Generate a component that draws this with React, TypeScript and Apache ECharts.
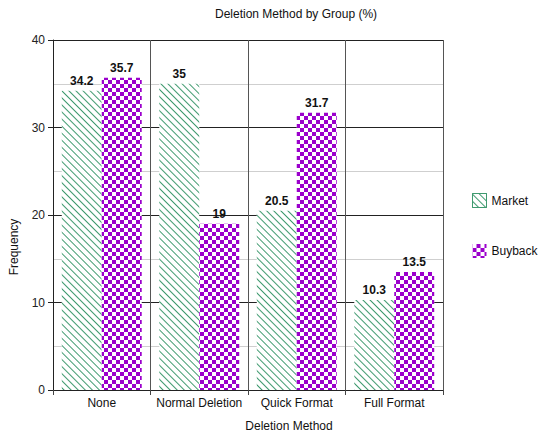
import React, { useEffect, useRef } from "react";
import * as echarts from "echarts";

const categories = ["None", "Normal Deletion", "Quick Format", "Full Format"];
const marketValues = [34.2, 35, 20.5, 10.3];
const buybackValues = [35.7, 19, 31.7, 13.5];
const seriesNames = ["Market", "Buyback"];

const GREEN = "#3f9a6f";
const PURPLE = "#9b00cc";

const marketDecal = {
  symbol: "rect",
  symbolSize: 1,
  dashArrayX: [1, 0],
  dashArrayY: [1, 4],
  rotation: Math.PI / 4,
  color: GREEN,
};
const buybackDecal = {
  symbol: "rect",
  symbolSize: 1,
  dashArrayX: [
    [4, 4],
    [0, 4, 4, 0],
  ],
  dashArrayY: [4, 0],
  rotation: 0,
  color: PURPLE,
};

export default function App() {
  const ref = useRef<HTMLDivElement>(null);
  useEffect(() => {
    if (!ref.current) return;
    const chart = echarts.init(ref.current, undefined, { renderer: "svg" });
    const font = "Liberation Sans, Arial, sans-serif";
    chart.setOption({
      animation: false,
      backgroundColor: "#fff",
      textStyle: { fontFamily: font },
      title: {
        text: "Deletion Method by Group (%)",
        left: 291,
        textAlign: "center",
        top: 3,
        textStyle: { fontSize: 12, fontWeight: "normal", color: "#111", fontFamily: font },
      },
      legend: {
        orient: "vertical",
        left: 467,
        top: 188,
        itemWidth: 14,
        itemHeight: 14,
        itemGap: 36,
        icon: "rect",
        textStyle: { fontSize: 12, color: "#111", fontFamily: font },
        data: [
          { name: seriesNames[0], itemStyle: { borderColor: GREEN, borderWidth: 1 } },
          { name: seriesNames[1] },
        ],
      },
      grid: { left: 53, right: 96, top: 40, bottom: 45, containLabel: false },
      xAxis: {
        type: "category",
        data: categories,
        name: "Deletion Method",
        nameLocation: "middle",
        nameGap: 30,
        nameTextStyle: { fontSize: 12, color: "#111", padding: [0, 0, 0, 82] },
        axisLine: { lineStyle: { color: "#222" } },
        axisTick: { show: true, length: 5, lineStyle: { color: "#444" } },
        axisLabel: { fontSize: 12, color: "#111", margin: 7, interval: 0 },
        splitLine: { show: true, lineStyle: { color: "#555", width: 1 } },
      },
      yAxis: {
        type: "value",
        min: 0,
        max: 40,
        interval: 10,
        name: "Frequency",
        nameLocation: "middle",
        nameGap: 33,
        nameTextStyle: { fontSize: 12, color: "#111", padding: [0, 64, 0, 0] },
        axisLine: { show: true, lineStyle: { color: "#222" } },
        axisTick: { show: true, length: 5, lineStyle: { color: "#222" } },
        axisLabel: { fontSize: 12, color: "#222", margin: 8 },
        splitLine: { show: true, lineStyle: { color: "#222", width: 1 } },
        minorTick: { show: false, splitNumber: 2 },
        minorSplitLine: { show: true, lineStyle: { color: "#cfcfcf", width: 1 } },
      },
      series: [
        {
          name: seriesNames[0],
          type: "bar",
          data: marketValues,
          barGap: "0%",
          barCategoryGap: "18%",
          itemStyle: { color: "#ffffff", decal: marketDecal },
          label: {
            show: true,
            position: "top",
            fontSize: 12,
            fontWeight: "bold",
            color: "#111",
            distance: 4,
          },
        },
        {
          name: seriesNames[1],
          type: "bar",
          data: buybackValues,
          barGap: "0%",
          barCategoryGap: "18%",
          itemStyle: { color: "#ffffff", decal: buybackDecal },
          label: {
            show: true,
            position: "top",
            fontSize: 12,
            fontWeight: "bold",
            color: "#111",
            distance: 4,
          },
        },
      ],
    });
    return () => chart.dispose();
  }, []);
  return (
    <div
      ref={ref}
      style={{ position: "fixed", left: 0, top: 0, width: 539, height: 437 }}
    />
  );
}
